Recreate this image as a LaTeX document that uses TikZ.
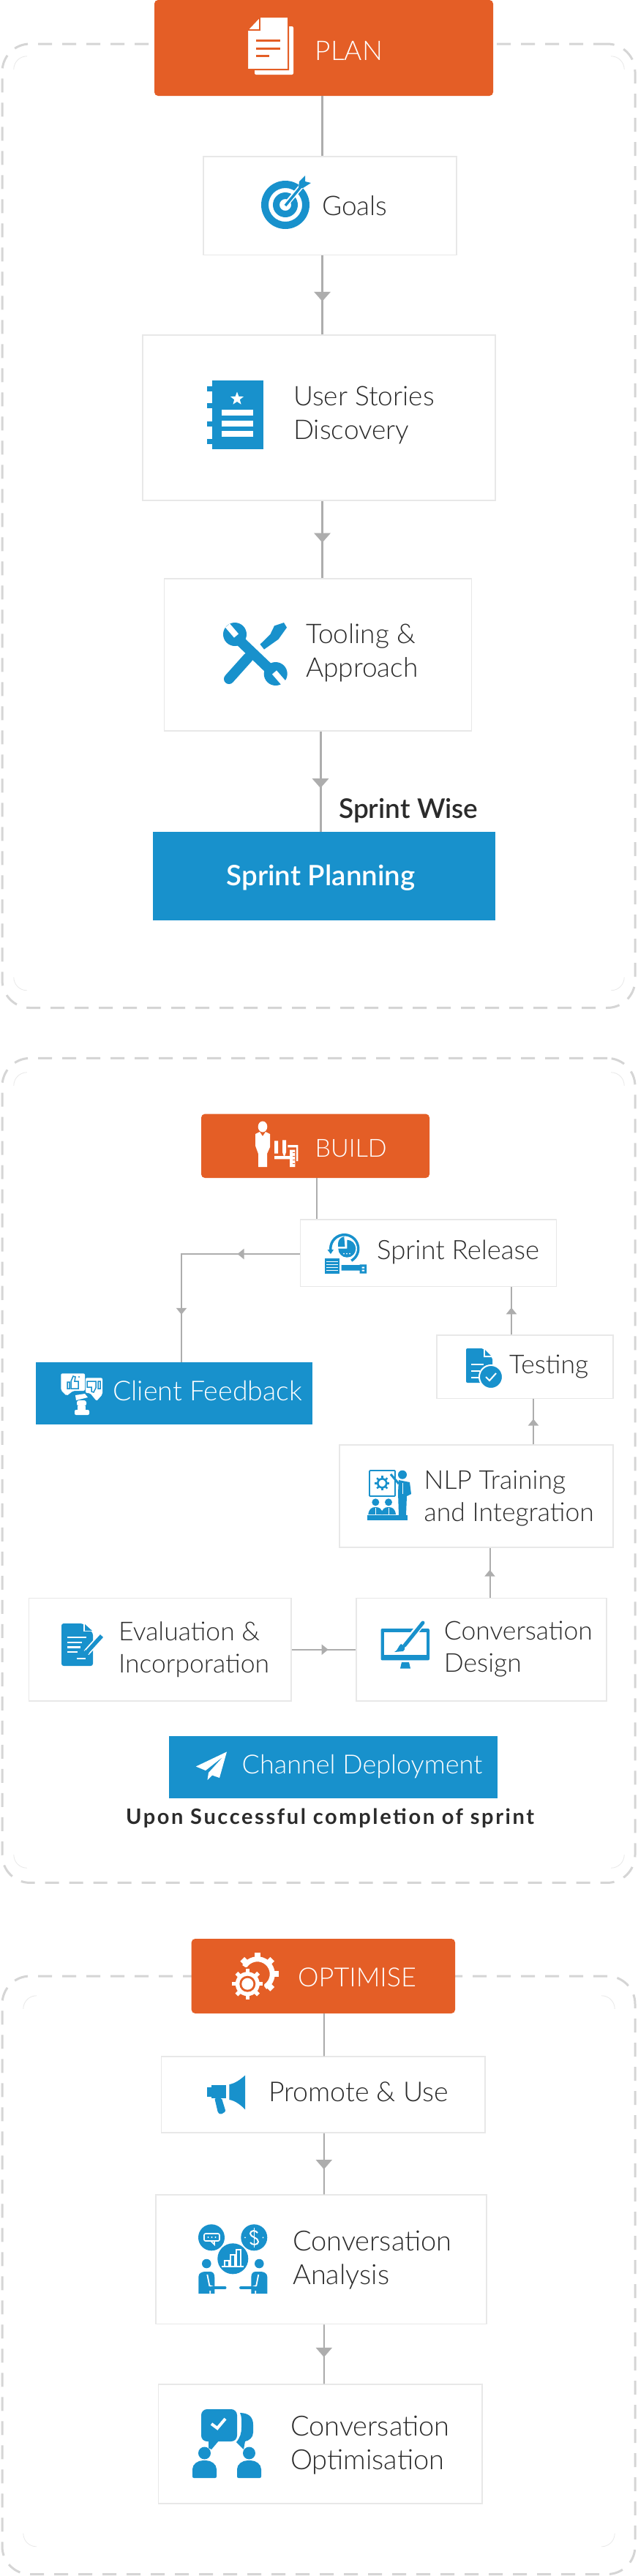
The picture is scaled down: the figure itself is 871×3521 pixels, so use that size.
\documentclass[tikz,border=0pt]{standalone}
\usepackage{fontspec}
\usetikzlibrary{arrows.meta,decorations.markings,shapes.geometric}
\newfontfamily\lightfont{Lato Light}
\newfontfamily\semifont{Lato Semibold}
\newfontfamily\boldfont{Lato Bold}
\newfontfamily\spacedfont[LetterSpace=9]{Lato Bold}
\definecolor{planorange}{HTML}{E45E26}
\definecolor{stepblue}{HTML}{1891CC}
\definecolor{linkgray}{HTML}{ADADAD}
\definecolor{dashgray}{HTML}{D5D5D5}
\definecolor{cardline}{HTML}{E8E8E8}
\definecolor{ink}{HTML}{2B2B2B}
\tikzset{
  frame/.style={draw=dashgray, line width=3pt, dash pattern=on 19pt off 14pt, rounded corners=38pt, inner sep=0pt},
  panel/.style={fill=white, inner sep=0pt},
  panelcorner/.style={draw=cardline, line width=.8pt},
  card/.style={draw=cardline, line width=1.5pt, fill=white, inner sep=0pt},
  phase/.style={fill=planorange, rounded corners=5pt, inner sep=0pt},
  bluebox/.style={fill=stepblue, inner sep=0pt},
  flow/.style={draw=linkgray, line width=3pt},
  thinflow/.style={draw=linkgray, line width=2pt},
  midtip/.style={postaction={decorate, decoration={markings, mark=at position #1 with {\arrow{Triangle[width=22pt,length=13pt]}}}}},
  smalltip/.style={postaction={decorate, decoration={markings, mark=at position #1 with {\arrow{Triangle[width=14pt,length=9pt]}}}}},
  lbl/.style={inner sep=0pt, anchor=base west, align=left, text=ink, font=\lightfont\fontsize{37}{46}\selectfont},
  lblwhite/.style={lbl, text=white},
  lblsmall/.style={lbl, font=\lightfont\fontsize{35.5}{44}\selectfont},
  lblwide/.style={lbl, font=\lightfont\fontsize{38}{46}\selectfont},
  head/.style={lbl, font=\semifont\fontsize{37}{40}\selectfont}
}
\begin{document}
\begin{tikzpicture}[x=1pt,y=-1pt]
\useasboundingbox (0,0) rectangle (871,3521);
\fill[white] (0,0) rectangle (871,3521);
\node[frame, minimum width=865pt, minimum height=1317.5pt] (planframe) at (435.5,718.75) {};
\node[frame, minimum width=865pt, minimum height=1127pt] (buildframe) at (435.5,2009.9) {};
\node[frame, minimum width=865pt, minimum height=817.5pt] (optframe) at (435.5,3109.75) {};
\node[panel, minimum width=834pt, minimum height=1276.6pt] (planpanel) at (436,715.3) {};
\node[panel, minimum width=834pt, minimum height=1087pt] (buildpanel) at (436,2009.5) {};
\node[panel, minimum width=808pt, minimum height=752.6pt] (optpanel) at (436,3104.3) {};
\foreach \p in {planpanel,buildpanel,optpanel} {
  \draw[panelcorner] ([yshift=-18pt]\p.north west) arc[start angle=180, end angle=90, radius=18pt];
  \draw[panelcorner] ([xshift=-18pt]\p.north east) arc[start angle=90, end angle=0, radius=18pt];
  \draw[panelcorner] ([yshift=18pt]\p.south west) arc[start angle=180, end angle=270, radius=18pt];
  \draw[panelcorner] ([xshift=-18pt]\p.south east) arc[start angle=270, end angle=360, radius=18pt];
}

\node[phase, minimum width=463pt, minimum height=131pt] (plan) at (442.5,65.5) {};
\node[card, minimum width=346pt, minimum height=134.5pt] (goals) at (451,281.25) {};
\node[card, minimum width=482pt, minimum height=226pt] (stories) at (436,571) {};
\node[card, minimum width=420pt, minimum height=208pt] (tooling) at (434.4,895) {};
\node[bluebox, minimum width=468pt, minimum height=120.6pt] (sprintplan) at (443,1197.3) {};

\node[phase, minimum width=312pt, minimum height=87.4pt] (build) at (431,1566.3) {};
\node[card, minimum width=350pt, minimum height=91.6pt] (release) at (585.5,1712.8) {};
\node[bluebox, minimum width=378pt, minimum height=84.6pt] (feedback) at (238,1904.7) {};
\node[card, minimum width=241pt, minimum height=86.5pt] (testing) at (717.5,1868.25) {};
\node[card, minimum width=374pt, minimum height=140pt] (nlp) at (651,2045) {};
\node[card, minimum width=342pt, minimum height=140.5pt] (design) at (658,2254.75) {};
\node[card, minimum width=358.5pt, minimum height=140.5pt] (evaluation) at (218.75,2254.75) {};
\node[bluebox, minimum width=449pt, minimum height=85pt] (channel) at (455.5,2415.5) {};

\node[phase, minimum width=360.3pt, minimum height=102pt] (optimise) at (441.85,2701) {};
\node[card, minimum width=442.5pt, minimum height=104pt] (promote) at (441.75,2863) {};
\node[card, minimum width=452pt, minimum height=176.6pt] (analysis) at (439,3088.3) {};
\node[card, minimum width=442.3pt, minimum height=163pt] (convopt) at (437.85,3340.5) {};

\draw[flow] ([xshift=-2pt]plan.south) -- ([xshift=-10.5pt]goals.north);
\draw[flow, midtip=.58] ([xshift=-10.5pt]goals.south) -- ([xshift=4.5pt]stories.north);
\draw[flow, midtip=.54] ([xshift=4.5pt]stories.south) -- ([xshift=6.1pt]tooling.north);
\draw[flow, midtip=.565] ([xshift=3.6pt]tooling.south) -- ([xshift=-5pt]sprintplan.north);
\draw[thinflow] ([xshift=2pt]build.south) -- ([xshift=-152.5pt]release.north);
\draw[thinflow, smalltip=.275, smalltip=.789] ([yshift=-1.2pt]release.west) -| ([xshift=10pt]feedback.north);
\draw[thinflow, smalltip=.57] ([xshift=-18.5pt]testing.north) -- ([xshift=113.5pt]release.south);
\draw[thinflow, smalltip=.56] ([xshift=78pt]nlp.north) -- ([xshift=11.5pt]testing.south);
\draw[thinflow, smalltip=.56] ([xshift=11.5pt]design.north) -- ([xshift=18.5pt]nlp.south);
\draw[thinflow, smalltip=.57] (evaluation.east) -- (design.west);
\draw[thinflow] ([xshift=1pt]optimise.south) -- ([xshift=1pt]promote.north);
\draw[thinflow, midtip=.59] ([xshift=1pt]promote.south) -- ([xshift=3.8pt]analysis.north);
\draw[thinflow, midtip=.55] ([xshift=3.8pt]analysis.south) -- ([xshift=5pt]convopt.north);

\node[lblwhite] (plantext) at (430.5,82) {PLAN};
\node[lbl] (goalstext) at (440,294) {Goals};
\node[lbl] (storiestext) at (401,600.5) {User Stories\\Discovery};
\node[lbl] (toolingtext) at (418,925.7) {Tooling \&\\Approach};
\node[head] (sprintwise) at (463,1118.5) {Sprint Wise};
\node[head, text=white, font=\semifont\fontsize{38.5}{40}\selectfont, anchor=base] (sprintplantext) at (438.6,1210) {Sprint Planning};
\node[lblwhite, font=\lightfont\fontsize{34}{44}\selectfont] (buildtext) at (430.5,1581) {BUILD};
\node[lblsmall, font=\lightfont\fontsize{36.5}{44}\selectfont] (releasetext) at (515,1721) {Sprint Release};
\node[lblwhite, font=\lightfont\fontsize{37.5}{44}\selectfont] (feedbacktext) at (154,1914) {Client Feedback};
\node[lblsmall] (testingtext) at (696,1877) {Testing};
\node[lblsmall] (nlptext) at (579.5,2079.6) {NLP Training\\and Integration};
\node[lblsmall] (evaltext) at (162,2286) {Evaluation \&\\Incorporation};
\node[lblsmall] (designtext) at (606.7,2285.4) {Conversation\\Design};
\node[lblwhite, font=\lightfont\fontsize{36}{44}\selectfont] (channeltext) at (330.5,2424) {Channel Deployment};
\node[lbl, font=\spacedfont\fontsize{29}{32}\selectfont] (upontext) at (172,2493.5) {Upon Successful completion of sprint};
\node[lblwhite, font=\lightfont\fontsize{36}{46}\selectfont] (opttext) at (407,2715) {OPTIMISE};
\node[lbl, font=\lightfont\fontsize{37.5}{46}\selectfont] (promotetext) at (367,2872) {Promote \& Use};
\node[lblwide] (analysistext) at (400,3122) {Conversation\\Analysis};
\node[lblwide] (convopttext) at (397,3375) {Conversation\\Optimisation};

% plan
\fill[white, rounded corners=2pt] (348,36) rectangle (401,102);
\filldraw[fill=white, draw=planorange, line width=2pt] (338,41) -- (355,23) -- (394,23) -- (394,95) -- (338,95) -- cycle;
\draw[planorange, line width=1.5pt] (355,24) -- (355,41) -- (339,41);
\draw[planorange, line width=3pt] (350,55.5) -- (383,55.5) (350,66.5) -- (383,66.5) (350,76) -- (368,76);
% goals
\fill[stepblue, even odd rule] (390,280) circle[radius=33pt] circle[radius=23pt];
\fill[stepblue, even odd rule] (390,280) circle[radius=17pt] circle[radius=8pt];
\draw[white, line width=7pt] (392,278) -- (414,252);
\draw[stepblue, line width=3.5pt] (390,281) -- (414,252);
\fill[stepblue] (408,257) -- (414,257) -- (425,250) -- (417,248) -- (417,240) -- (409,248) -- cycle;
% stories
\fill[stepblue] (290,520) rectangle (360,614);
\foreach \y in {528,551,576,600} \fill[stepblue] (283,\y) rectangle (291,\y+7);
\node[star, star points=5, star point ratio=2.4, fill=white, inner sep=0pt, minimum size=19pt] (storystar) at (324,545) {};
\foreach \y in {564,578.5,593} \fill[white] (303,\y-4) rectangle (346,\y+4);
% tooling
\draw[stepblue, line width=14pt, line cap=round] (313,928) -- (339,899);
\fill[stepblue] (355.5,880.7) -- (361,887.6) -- (380.5,873.8) -- (392,857.7) -- (388,851) -- (375,855.4) -- (369.4,867) -- cycle;
\draw[stepblue, line width=14pt] (327,875) -- (371,917);
\fill[stepblue] (321,867) circle[radius=16pt] (376.7,921) circle[radius=16pt];
\draw[white, line width=8pt] (323,869) -- (311,855);
\draw[white, line width=8pt] (375,919) -- (388,934);

% build
\fill[white] (359,1540) ellipse[x radius=6.3pt, y radius=7.5pt];
\fill[white] (349,1550) -- (355,1547) -- (359,1553) -- (363,1547) -- (369,1550) -- (369,1568) -- (365,1577) -- (365,1595) -- (353,1595) -- (353,1577) -- (349,1566) -- cycle;
\fill[white] (375,1559.3) rectangle (380,1576.7) (375,1580) rectangle (396,1584.3) (393.3,1565) rectangle (407.3,1568.3) (405,1568) rectangle (407.3,1587) (396,1571.7) rectangle (403.3,1595);
\fill[white] (386,1558.3) -- (391,1558.3) -- (391,1575) -- (388.5,1581.7) -- (386,1575) -- cycle;
\foreach \y in {1575,1580,1585,1590} \draw[planorange, line width=1pt] (400,\y) -- (403.3,\y);
% release
\draw[stepblue, line width=3.5pt] (452,1710) arc[start angle=190, end angle=-60, radius=19pt];
\fill[stepblue] (447.5,1708) -- (456,1708) -- (452,1714) -- cycle;
\fill[stepblue] (474.3,1706.7) -- (474.3,1694.7) arc[start angle=90, end angle=-180, radius=12pt] -- cycle;
\fill[stepblue] (462,1704) -- (462,1700) arc[start angle=180, end angle=100, radius=10pt] -- (471.5,1704) -- cycle;
\foreach \x in {470,474,478} \fill[white] (\x,1713.5) circle[radius=1pt];
\fill[stepblue] (444,1720) rectangle (464,1740.7);
\foreach \y in {1724.5,1728.5,1732.5,1736.5} \draw[white, line width=1pt] (446,\y) -- (462,\y);
\fill[stepblue] (466.7,1729) rectangle (491.7,1736.7) (491.7,1728.3) rectangle (501,1740.7);
\fill[white] (494.5,1731.5) rectangle (498,1733.5) (494.5,1735.5) rectangle (498,1737.5);
% feedback
\fill[white, rounded corners=2pt] (83.3,1877.3) -- (116,1877.3) -- (116,1901) -- (100,1901) -- (91,1908) -- (83.3,1900) -- cycle;
\fill[white, rounded corners=2pt] (117,1883.3) -- (140,1883.3) -- (140,1906) -- (132,1915) -- (123,1904) -- (117,1904) -- cycle;
\draw[stepblue, line width=1.5pt] (92,1889) rectangle (95,1898) (97,1898) -- (97,1888) -- (100,1881) -- (103,1882) -- (102,1888) -- (107,1888) -- (107,1898) -- cycle;
\draw[stepblue, line width=1.5pt] (134,1888) rectangle (137,1898) (131,1888) -- (119,1888) -- (119,1896) -- (125,1896) -- (125,1902) -- (128,1903) -- (131,1897) -- cycle;
\fill[stepblue] (108,1882) circle[radius=1.2pt];
\fill[white] (103,1907) -- (116,1905) -- (120,1910) -- (104,1914) -- cycle;
\fill[white, rounded corners=3pt] (105,1914) rectangle (118,1922);
\fill[white] (106,1922) rectangle (117,1928);
\fill[white, rounded corners=2pt] (102,1927) rectangle (122,1934);
% testing
\fill[stepblue, rounded corners=2pt] (637,1843) -- (660,1843) -- (673,1856) -- (673,1890) -- (637,1890) -- cycle;
\fill[white] (661,1843) -- (661,1855) -- (673,1855) -- cycle;
\fill[stepblue] (663,1845) -- (663,1853) -- (671,1853) -- cycle;
\draw[white, line width=1.5pt] (644,1865) -- (661,1865) (644,1874) -- (656,1874) (644,1883) -- (656,1883);
\filldraw[fill=stepblue, draw=white, line width=2pt] (671,1882) circle[radius=16pt];
\draw[white, line width=2pt] (664,1882) -- (669,1887) -- (678,1877);
% nlp
\draw[stepblue, line width=1.8pt, rounded corners=1pt] (505,2010) rectangle (540,2045);
\draw[stepblue, line width=2.6pt] (522.3,2027.3) circle[radius=6pt];
\foreach \a in {0,45,...,315} \draw[stepblue, line width=2.5pt] (522.3,2027.3) ++(\a:6pt) -- ++(\a:4pt);
\fill[stepblue] (550,2015.7) circle[radius=6pt];
\draw[stepblue, line width=3pt] (534,2015) -- (545,2028);
\fill[stepblue] (545,2023) -- (560,2026) -- (562,2042) -- (556,2045) -- (555,2071) -- (545,2071) -- (544,2040) -- cycle;
\draw[white, line width=1pt] (550,2027) -- (550,2042);
\foreach \x in {513.3,531} {
  \fill[stepblue] (\x,2053.3) circle[radius=5pt];
  \fill[stepblue] (\x-10,2070) .. controls (\x-9,2062) and (\x-5,2060) .. (\x,2060) .. controls (\x+5,2060) and (\x+9,2062) .. (\x+10,2070) -- cycle;
  \draw[white, line width=.8pt] (\x,2061) -- (\x,2070);
}
\fill[stepblue] (502.3,2071) rectangle (556.7,2077.7);
% evaluation
\fill[stepblue, rounded corners=3pt] (84,2219) -- (113,2219) -- (127,2232) -- (127,2277) -- (84,2277) -- cycle;
\fill[white] (114,2219) -- (127,2219) -- (127,2230) -- (114,2230) -- cycle;
\fill[stepblue] (116,2220) -- (116,2229) -- (126,2229) -- cycle;
\draw[white, line width=2.2pt] (91.7,2238) -- (117.8,2238) (91.7,2245) -- (112,2245) (91.7,2251.5) -- (110,2251.5) (91.7,2258) -- (106,2258) (105,2267) -- (117,2267);
\draw[white, line width=9pt] (137,2238) -- (118,2259);
\draw[stepblue, line width=5.5pt] (139,2236) -- (119,2258);
\fill[stepblue] (116,2255) -- (122,2260) -- (114,2264) -- cycle;
% design
\fill[stepblue, rounded corners=2pt] (520.5,2226) rectangle (587,2269.4);
\fill[white] (525,2230.5) rectangle (582.8,2261.8);
\fill[stepblue] (547,2280.5) -- (549,2272) -- (559,2272) -- (561,2280.5) -- cycle;
\draw[white, line width=9pt] (577,2218) -- (552,2250);
\draw[stepblue, line width=5pt, line cap=round] (578,2218) -- (553,2249);
\fill[stepblue] (548,2247) .. controls (554,2249) and (555,2254) .. (551,2257) -- (539,2258) .. controls (544,2256) and (544,2250) .. (548,2247) -- cycle;
% channel
\fill[white] (310,2394.4) -- (267.8,2414.5) -- (281,2420) -- (305,2401) -- (285,2423) -- (283.5,2433) -- (290,2426.5) -- (300,2430) -- cycle;

% optimise
\draw[white, line width=7pt] (334,2688) arc[start angle=150, end angle=-60, radius=20.5pt];
\foreach \a in {135,90,45,0,-45} \draw[white, line width=8pt] (351.7,2698.3) ++(\a:20pt) -- ++(\a:9pt);
\fill[planorange] (338.3,2711.7) circle[radius=23pt];
\foreach \a in {0,45,...,315} \draw[white, line width=5.5pt] (338.3,2711.7) ++(\a:14pt) -- ++(\a:7pt);
\fill[white] (338.3,2711.7) circle[radius=16.5pt];
\fill[planorange] (338.3,2711.7) circle[radius=11pt];
\fill[white] (338.3,2711.7) circle[radius=8pt];
% promote
\fill[stepblue] (282.7,2853.3) rectangle (289.3,2865.7);
\fill[stepblue] (289.3,2850) rectangle (309.3,2868.3);
\fill[stepblue, rounded corners=1.5pt] (293.3,2868) -- (303,2868) -- (308.5,2886) -- (302,2890) -- (298,2888) -- cycle;
\fill[stepblue] (313.3,2849) .. controls (321,2848) and (329,2842) .. (335,2836.7) -- (335,2883.3) .. controls (329,2877) and (321,2871) .. (313.3,2870) -- cycle;
% analysis
\fill[stepblue] (289,3058.3) circle[radius=18pt] (347.3,3058.3) circle[radius=18pt] (318.3,3087.3) circle[radius=21pt];
\draw[white, line width=1.6pt, rounded corners=2pt] (279,3053) rectangle (300,3063);
\draw[white, line width=1.6pt] (288,3063) -- (293,3068) -- (293,3063);
\foreach \x in {284.5,289.5,294.5} \fill[white] (\x,3058) circle[radius=1.2pt];
\draw[white, line width=2pt] (352,3052) .. controls (350,3048) and (342,3048) .. (342,3053) .. controls (342,3058) and (353,3058) .. (353,3064) .. controls (353,3069) and (344,3069) .. (342,3065);
\draw[white, line width=1.5pt] (347.3,3045) -- (347.3,3072);
\fill[white] (335,3058.3) circle[radius=1pt] (359.5,3058.3) circle[radius=1pt];
\draw[white, line width=1.4pt] (307,3097) -- (307,3090) -- (313,3090) -- (313,3097) (315,3097) -- (315,3082) -- (321,3082) -- (321,3097) (323,3097) -- (323,3075) -- (329,3075) -- (329,3097);
\draw[white, line width=2pt] (303,3098) -- (333,3098);
\foreach \s in {-1,1} {
  \begin{scope}[shift={(318.3,0)}, xscale=\s]
    \fill[stepblue] (36,3094) circle[radius=6.3pt];
    \fill[stepblue] (47,3135) -- (47,3112) .. controls (47,3107) and (42,3105) .. (38,3105) -- (31,3105) .. controls (27,3105) and (25,3108) .. (25,3113) -- (25,3135) -- cycle;
    \draw[white, line width=1.8pt] (35,3109) -- (32,3124) -- (26,3126) (31,3135) -- (31,3131);
    \draw[stepblue, line width=4.5pt, line cap=round] (29,3127) -- (11,3127);
  \end{scope}
}
% convopt
\fill[stepblue, rounded corners=8pt] (275,3293) rectangle (324,3337);
\fill[stepblue] (285,3335) -- (300,3335) -- (289,3348) -- (285,3346) -- cycle;
\draw[white, line width=4pt] (289,3313) -- (297,3319) -- (308,3306);
\fill[stepblue] (328,3298) .. controls (340,3298) and (346,3304) .. (346,3314) -- (346,3325) .. controls (346,3332) and (340,3336) .. (335,3337) -- (333,3348) -- (323,3338) .. controls (328,3332) and (330,3326) .. (330,3318) -- (330,3306) .. controls (330,3303) and (329,3300) .. (328,3298) -- cycle;
\foreach \x in {279.5,340.5} {
  \fill[stepblue] (\x,3353) circle[radius=8.5pt];
  \fill[stepblue, rounded corners=2pt] (\x-16.5,3387) -- (\x-16.5,3377) .. controls (\x-16.5,3368) and (\x-9,3363) .. (\x,3363) .. controls (\x+9,3363) and (\x+16.5,3368) .. (\x+16.5,3377) -- (\x+16.5,3387) -- cycle;
}
\end{tikzpicture}
\end{document}
